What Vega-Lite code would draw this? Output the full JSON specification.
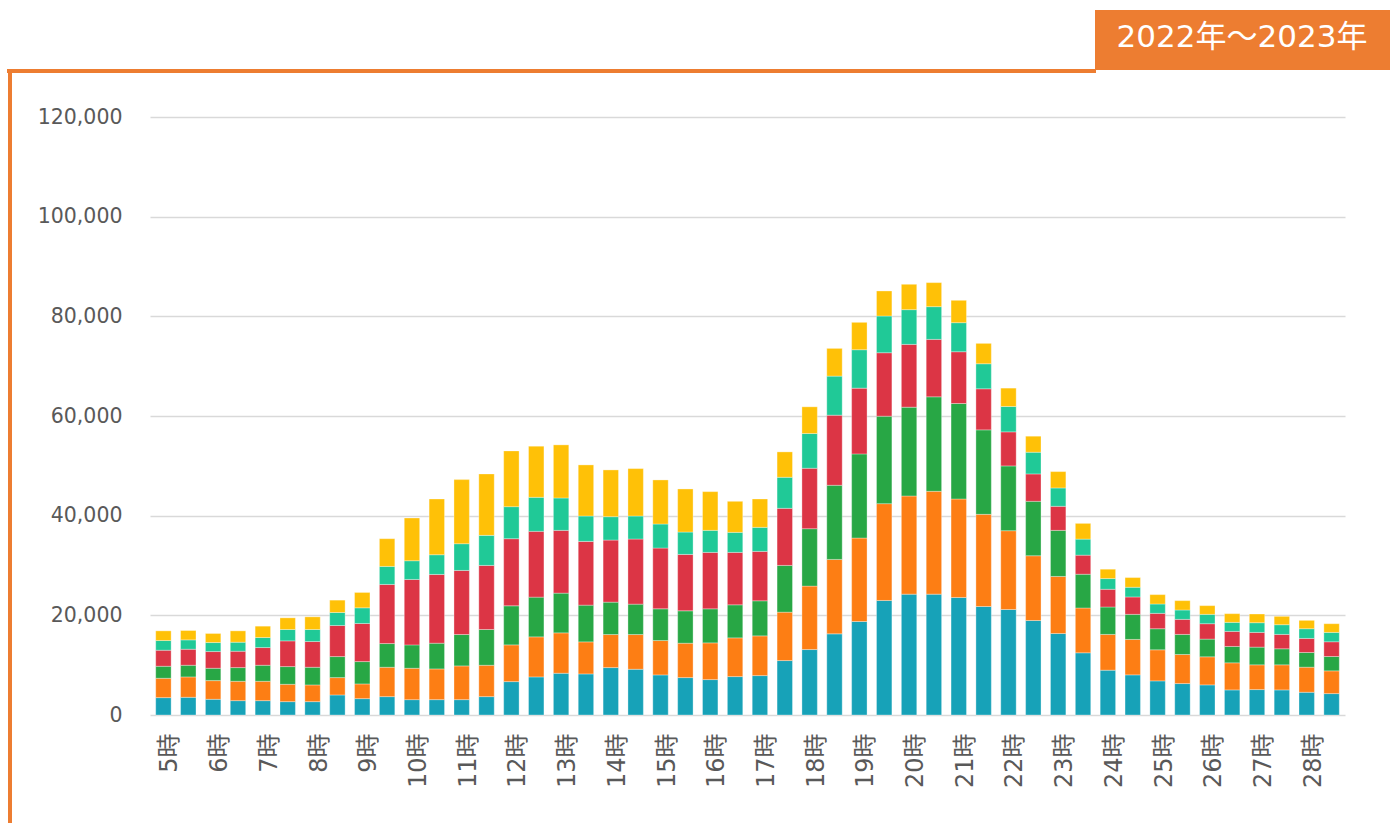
{
  "$schema": "https://vega.github.io/schema/vega-lite/v6.json",
  "width": 1195,
  "height": 598,
  "autosize": {"type": "none"},
  "padding": {"left": 150, "top": 117, "right": 45, "bottom": 108},
  "background": "white",
  "config": {"view": {"stroke": null}},
  "layer": [
    {
      "data": {
        "values": [
          {"t": "5時", "s1": 3484, "s2": 3886, "s3": 2412, "s4": 3216, "s5": 1943, "s6": 1943},
          {"t": "5時30分", "s1": 3551, "s2": 4087, "s3": 2345, "s4": 3216, "s5": 1876, "s6": 1876},
          {"t": "6時", "s1": 3149, "s2": 3752, "s3": 2479, "s4": 3350, "s5": 1809, "s6": 1809},
          {"t": "6時30分", "s1": 2881, "s2": 3886, "s3": 2747, "s4": 3283, "s5": 1809, "s6": 2278},
          {"t": "7時", "s1": 2881, "s2": 3886, "s3": 3216, "s4": 3551, "s5": 2010, "s6": 2278},
          {"t": "7時30分", "s1": 2680, "s2": 3484, "s3": 3551, "s4": 5159, "s5": 2278, "s6": 2345},
          {"t": "8時", "s1": 2680, "s2": 3350, "s3": 3551, "s4": 5159, "s5": 2412, "s6": 2546},
          {"t": "8時30分", "s1": 4020, "s2": 3484, "s3": 4221, "s4": 6231, "s5": 2613, "s6": 2479},
          {"t": "9時", "s1": 3283, "s2": 2948, "s3": 4489, "s4": 7638, "s5": 3149, "s6": 3082},
          {"t": "9時30分", "s1": 3685, "s2": 5896, "s3": 4757, "s4": 11859, "s5": 3618, "s6": 5561},
          {"t": "10時", "s1": 3082, "s2": 6298, "s3": 4690, "s4": 13132, "s5": 3752, "s6": 8576},
          {"t": "10時30分", "s1": 3082, "s2": 6164, "s3": 5159, "s4": 13802, "s5": 3953, "s6": 11189},
          {"t": "11時", "s1": 3082, "s2": 6767, "s3": 6298, "s4": 12864, "s5": 5360, "s6": 12864},
          {"t": "11時30分", "s1": 3685, "s2": 6298, "s3": 7169, "s4": 12864, "s5": 6030, "s6": 12328},
          {"t": "12時", "s1": 6700, "s2": 7370, "s3": 7839, "s4": 13467, "s5": 6432, "s6": 11189},
          {"t": "12時30分", "s1": 7638, "s2": 8040, "s3": 7973, "s4": 13199, "s5": 6834, "s6": 10251},
          {"t": "13時", "s1": 8375, "s2": 8107, "s3": 7973, "s4": 12596, "s5": 6499, "s6": 10653},
          {"t": "13時30分", "s1": 8241, "s2": 6432, "s3": 7370, "s4": 12797, "s5": 5092, "s6": 10251},
          {"t": "14時", "s1": 9514, "s2": 6633, "s3": 6499, "s4": 12462, "s5": 4690, "s6": 9380},
          {"t": "14時30分", "s1": 9179, "s2": 6968, "s3": 6097, "s4": 13065, "s5": 4623, "s6": 9514},
          {"t": "15時", "s1": 8040, "s2": 6901, "s3": 6365, "s4": 12194, "s5": 4824, "s6": 8844},
          {"t": "15時30分", "s1": 7504, "s2": 6901, "s3": 6499, "s4": 11323, "s5": 4489, "s6": 8643},
          {"t": "16時", "s1": 7102, "s2": 7370, "s3": 6834, "s4": 11323, "s5": 4422, "s6": 7772},
          {"t": "16時30分", "s1": 7705, "s2": 7772, "s3": 6633, "s4": 10519, "s5": 4020, "s6": 6231},
          {"t": "17時", "s1": 7906, "s2": 7973, "s3": 7035, "s4": 9916, "s5": 4824, "s6": 5695},
          {"t": "17時30分", "s1": 10921, "s2": 9715, "s3": 9380, "s4": 11457, "s5": 6231, "s6": 5092},
          {"t": "18時", "s1": 13132, "s2": 12730, "s3": 11524, "s4": 12127, "s5": 6968, "s6": 5360},
          {"t": "18時30分", "s1": 16281, "s2": 14941, "s3": 14874, "s4": 14070, "s5": 7839, "s6": 5561},
          {"t": "19時", "s1": 18760, "s2": 16750, "s3": 16884, "s4": 13199, "s5": 7705, "s6": 5494},
          {"t": "19時30分", "s1": 22981, "s2": 19430, "s3": 17554, "s4": 12730, "s5": 7370, "s6": 5025},
          {"t": "20時", "s1": 24254, "s2": 19698, "s3": 17822, "s4": 12596, "s5": 6968, "s6": 5092},
          {"t": "20時30分", "s1": 24254, "s2": 20636, "s3": 18961, "s4": 11524, "s5": 6566, "s6": 4824},
          {"t": "21時", "s1": 23584, "s2": 19765, "s3": 19162, "s4": 10385, "s5": 5829, "s6": 4489},
          {"t": "21時30分", "s1": 21775, "s2": 18492, "s3": 16951, "s4": 8241, "s5": 5025, "s6": 4087},
          {"t": "22時", "s1": 21172, "s2": 15812, "s3": 12998, "s4": 6834, "s5": 5092, "s6": 3685},
          {"t": "22時30分", "s1": 18961, "s2": 12998, "s3": 10921, "s4": 5494, "s5": 4355, "s6": 3216},
          {"t": "23時", "s1": 16348, "s2": 11457, "s3": 9246, "s4": 4824, "s5": 3685, "s6": 3283},
          {"t": "23時30分", "s1": 12481, "s2": 8991, "s3": 6777, "s4": 3825, "s5": 3221, "s6": 3154},
          {"t": "24時", "s1": 8991, "s2": 7180, "s3": 5502, "s4": 3556, "s5": 2147, "s6": 1879},
          {"t": "24時30分", "s1": 8052, "s2": 7113, "s3": 5033, "s4": 3489, "s5": 1946, "s6": 1946},
          {"t": "25時", "s1": 6844, "s2": 6240, "s3": 4227, "s4": 3087, "s5": 1879, "s6": 1879},
          {"t": "25時30分", "s1": 6307, "s2": 5838, "s3": 4026, "s4": 3020, "s5": 1879, "s6": 1879},
          {"t": "26時", "s1": 6039, "s2": 5636, "s3": 3556, "s4": 3087, "s5": 1879, "s6": 1745},
          {"t": "26時30分", "s1": 5033, "s2": 5435, "s3": 3288, "s4": 3020, "s5": 1812, "s6": 1745},
          {"t": "27時", "s1": 5100, "s2": 4965, "s3": 3556, "s4": 2952, "s5": 1946, "s6": 1745},
          {"t": "27時30分", "s1": 5033, "s2": 5033, "s3": 3221, "s4": 2885, "s5": 1946, "s6": 1678},
          {"t": "28時", "s1": 4563, "s2": 5033, "s3": 2952, "s4": 2818, "s5": 1946, "s6": 1678},
          {"t": "28時30分", "s1": 4294, "s2": 4563, "s3": 2885, "s4": 2952, "s5": 1879, "s6": 1745}
        ]
      },
      "transform": [{"fold": ["s1", "s2", "s3", "s4", "s5", "s6"], "as": ["series", "value"]}],
      "mark": {"type": "bar", "stroke": "white", "strokeWidth": 0.8, "strokeOpacity": 0.4},
      "encoding": {
        "x": {
          "field": "t", "type": "nominal", "sort": null, "title": null,
          "scale": {"paddingInner": 0.38, "paddingOuter": 0.23},
          "axis": {
            "labelAngle": -90, "labelFontSize": 24, "labelFont": "DejaVu Sans, Noto Sans CJK JP",
            "labelColor": "#595959", "ticks": false, "domain": false, "grid": false,
            "labelPadding": 18, "labelOffset": 7,
            "labelExpr": "indexof(datum.value, '分') >= 0 ? '' : datum.value"
          }
        },
        "y": {
          "field": "value", "type": "quantitative", "stack": "zero", "title": null,
          "scale": {"domain": [0, 120000], "nice": false},
          "axis": {
            "values": [0, 20000, 40000, 60000, 80000, 100000, 120000], "format": ",.0f",
            "labelFontSize": 20.5, "labelFont": "DejaVu Sans", "labelColor": "#595959",
            "ticks": false, "domain": false, "labelPadding": 28,
            "gridColor": "#d9d9d9", "gridWidth": 1.5
          }
        },
        "color": {
          "field": "series", "type": "nominal", "legend": null,
          "scale": {"domain": ["s1", "s2", "s3", "s4", "s5", "s6"], "range": ["#17A2B8", "#FD7E14", "#28A745", "#DC3545", "#20C997", "#FFC107"]}
        },
        "order": {"field": "series", "sort": "ascending"}
      }
    },
    {
      "data": {"values": [{}]},
      "mark": {"type": "rect", "color": "#ED7D31"},
      "encoding": {"x": {"value": 945}, "x2": {"value": 1240}, "y": {"value": -107}, "y2": {"value": -47}}
    },
    {
      "data": {"values": [{}]},
      "mark": {"type": "rect", "color": "#ED7D31"},
      "encoding": {"x": {"value": -143}, "x2": {"value": 946}, "y": {"value": -48}, "y2": {"value": -44}}
    },
    {
      "data": {"values": [{}]},
      "mark": {"type": "rect", "color": "#ED7D31"},
      "encoding": {"x": {"value": -142}, "x2": {"value": -138}, "y": {"value": -48}, "y2": {"value": 706}}
    },
    {
      "data": {"values": [{}]},
      "mark": {"type": "text", "text": "2022年～2023年", "color": "white", "fontSize": 31, "font": "DejaVu Sans, Noto Sans CJK JP", "align": "center", "baseline": "middle"},
      "encoding": {"x": {"value": 1092}, "y": {"value": -79}}
    }
  ]
}
